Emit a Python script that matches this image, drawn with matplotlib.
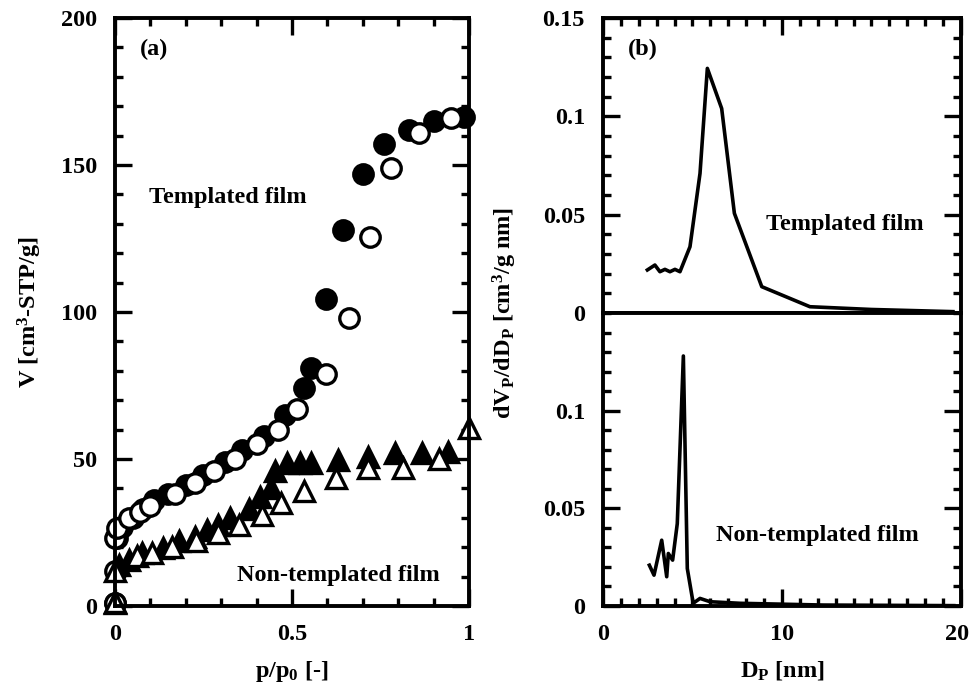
import numpy as np
import matplotlib.pyplot as plt
from matplotlib.ticker import MultipleLocator

plt.rcParams['font.family'] = ['Liberation Serif', 'DejaVu Serif']
plt.rcParams['font.weight'] = 'bold'
plt.rcParams['mathtext.fontset'] = 'custom'
plt.rcParams['mathtext.rm'] = 'Liberation Serif:bold'
plt.rcParams['mathtext.bf'] = 'Liberation Serif:bold'
plt.rcParams['mathtext.default'] = 'rm'

# (a) isotherms, templated film (circles)
tmp_ads_x = [0.0, 0.002, 0.005, 0.02, 0.05, 0.08, 0.11, 0.15, 0.20, 0.25, 0.31,
             0.36, 0.42, 0.48, 0.533, 0.553, 0.595, 0.645, 0.70, 0.76, 0.83, 0.90, 0.985]
tmp_ads_y = [1, 12, 23, 27, 30, 33, 36, 38, 41, 44.5, 49,
             53, 58, 65, 74, 81, 104.5, 128, 147, 157, 162, 165, 166.5]
tmp_des_x = [0.0, 0.0, 0.0, 0.005, 0.04, 0.07, 0.10, 0.17, 0.225, 0.28, 0.34,
             0.40, 0.46, 0.515, 0.595, 0.66, 0.72, 0.78, 0.86, 0.95]
tmp_des_y = [1, 12, 23, 26.5, 30, 32, 34, 38, 42, 46, 50,
             55, 60, 67, 79, 98, 125.5, 149, 161, 166]

# (a) isotherms, non-templated film (triangles)
non_ads_x = [0.0, 0.01, 0.04, 0.077, 0.135, 0.18, 0.225, 0.26, 0.29, 0.325, 0.38,
             0.41, 0.44, 0.453, 0.487, 0.524, 0.553, 0.63, 0.715, 0.79, 0.866, 0.94]
non_ads_y = [1, 14, 15.6, 18, 19.7, 22, 23.5, 26, 27.5, 30, 33,
             37, 40, 46, 48.5, 48.5, 48.5, 49.5, 50.7, 52, 52, 52.5]
non_des_x = [0.0, 0.0, 0.063, 0.105, 0.16, 0.23, 0.29, 0.35, 0.415, 0.47, 0.535,
             0.625, 0.715, 0.815, 0.915, 1.0]
non_des_y = [1.5, 12, 17, 18, 20, 22, 25, 27.5, 31, 35, 39,
             43.5, 47, 47, 50, 60.5]

# (b) pore size distributions
psd_tmp_x = [2.48, 2.9, 3.18, 3.46, 3.74, 4.02, 4.3, 4.86, 5.42, 5.83, 6.63,
             7.34, 8.87, 11.56, 15.0, 19.55]
psd_tmp_y = [0.0219, 0.0244, 0.021, 0.0222, 0.021, 0.0222, 0.021, 0.0337, 0.071,
             0.1244, 0.104, 0.0507, 0.0134, 0.0032, 0.0018, 0.0007]
psd_non_x = [2.59, 2.85, 3.28, 3.56, 3.65, 3.89, 4.15, 4.49, 4.71, 5.04, 5.42,
             5.98, 7.65, 12.3, 19.6]
psd_non_y = [0.0209, 0.0158, 0.0337, 0.015, 0.0269, 0.0235, 0.0422, 0.128, 0.0192,
             0.0014, 0.0039, 0.0022, 0.0014, 0.0005, 0.0002]

fs = 17.5
fig = plt.figure(figsize=(9.71, 6.83), dpi=100)
ax = fig.add_axes([0.1184, 0.1127, 0.3646, 0.8609])
ax_t = fig.add_axes([0.621, 0.5417, 0.3687, 0.4319])
ax_b = fig.add_axes([0.621, 0.1127, 0.3687, 0.4290])


def style(a):
    for s in a.spines.values():
        s.set_linewidth(2.8)
    a.tick_params(which='both', direction='in', width=2.4, labelsize=fs, pad=13)
    a.tick_params(which='major', length=12.5)
    a.tick_params(which='minor', length=6)
    for t in a.get_xticklabels() + a.get_yticklabels():
        t.set_fontweight('bold')


ms = 14
mew = 2.4
ax.plot(tmp_ads_x, tmp_ads_y, 'o', ms=ms, mfc='black', mec='black', mew=mew, ls='none', clip_on=False)
ax.plot(tmp_des_x, tmp_des_y, 'o', ms=ms, mfc='white', mec='black', mew=mew, ls='none', clip_on=False)
ax.plot(non_ads_x, non_ads_y, '^', ms=ms, mfc='black', mec='black', mew=mew, ls='none', clip_on=False)
ax.plot(non_des_x, non_des_y, '^', ms=ms, mfc='white', mec='black', mew=mew, ls='none', clip_on=False)
ax.set_xlim(0, 1)
ax.set_ylim(0, 200)
ax.xaxis.set_major_locator(MultipleLocator(0.5))
ax.xaxis.set_minor_locator(MultipleLocator(0.1))
ax.yaxis.set_major_locator(MultipleLocator(50))
ax.yaxis.set_minor_locator(MultipleLocator(10))
ax.xaxis.set_major_formatter(lambda v, p: f'{v:g}')
ax.tick_params(which='both', top=True, right=True)
style(ax)
ax.set_xlabel(r'p/p$_0$ [-]', fontsize=fs, fontweight='bold', labelpad=10)
ax.set_ylabel(r'V [cm$^3$-STP/g]', fontsize=fs, fontweight='bold', labelpad=12)
ax.text(0.07, 0.965, '(a)', transform=ax.transAxes, fontsize=fs, fontweight='bold', va='top')
ax.text(0.095, 0.695, 'Templated film', transform=ax.transAxes, fontsize=fs, fontweight='bold', va='center')
ax.text(0.345, 0.052, 'Non-templated film', transform=ax.transAxes, fontsize=fs, fontweight='bold', va='center')

x_max = 20
for a, xs, ys in ((ax_t, psd_tmp_x, psd_tmp_y), (ax_b, psd_non_x, psd_non_y)):
    a.plot(xs, ys, color='black', lw=2.6)
    a.set_xlim(0, x_max)
    a.set_ylim(0, 0.15)
    a.xaxis.set_major_locator(MultipleLocator(10))
    a.xaxis.set_minor_locator(MultipleLocator(1))
    a.yaxis.set_major_locator(MultipleLocator(0.05))
    a.yaxis.set_minor_locator(MultipleLocator(0.01))
    a.yaxis.set_major_formatter(lambda v, p: f'{v:g}')

# last label (20) is drawn separately so it stays inside the figure
ax_b.xaxis.set_major_formatter(lambda v, p: '' if v >= x_max else f'{v:g}')
ax_b.annotate(f'{x_max:g}', xy=(x_max, 0), xycoords=('data', 'axes fraction'),
              xytext=(5.5, -13), textcoords='offset points', ha='right', va='top',
              fontsize=fs, fontweight='bold')

ax_t.tick_params(which='both', top=True, bottom=False, labelbottom=False, right=True)
ax_b.tick_params(which='both', top=False, right=True)
ax_b.set_yticks([0, 0.05, 0.1])
style(ax_t)
style(ax_b)
ax_b.set_xlabel(r'D$_\mathrm{P}$ [nm]', fontsize=fs, fontweight='bold', labelpad=10)
fig.text(0.52, 0.5417, r'dV$_\mathrm{P}$/dD$_\mathrm{P}$ [cm$^3$/g nm]', rotation=90,
         fontsize=fs, fontweight='bold', ha='center', va='center')
ax_t.text(0.07, 0.93, '(b)', transform=ax_t.transAxes, fontsize=fs, fontweight='bold', va='top')
ax_t.text(0.455, 0.30, 'Templated film', transform=ax_t.transAxes, fontsize=fs, fontweight='bold', va='center')
ax_b.text(0.315, 0.24, 'Non-templated film', transform=ax_b.transAxes, fontsize=fs, fontweight='bold', va='center')

fig.savefig('out.png', dpi=100)
